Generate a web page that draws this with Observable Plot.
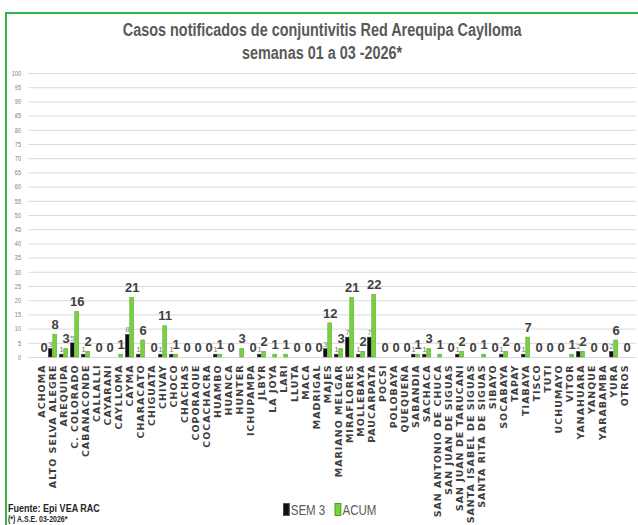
<!DOCTYPE html>
<html><head><meta charset="utf-8">
<script src="https://cdn.jsdelivr.net/npm/d3@7"></script>
<script src="https://cdn.jsdelivr.net/npm/@observablehq/plot@0.6"></script>
<style>
body{margin:0;background:#fff;}
#wrap{position:relative;width:638px;height:525px;overflow:hidden;background:#fff;font-family:"Liberation Sans Narrow","Arial Narrow","Liberation Sans",sans-serif;}
#frameTop{position:absolute;left:5px;top:12px;width:633px;height:2px;background:#2fb34a;}
#frameLeft{position:absolute;left:5px;top:12px;width:2px;height:513px;background:#2fb34a;}
#title{position:absolute;left:6px;width:632px;top:19px;text-align:center;color:#595959;font-weight:bold;font-size:18px;line-height:23px;}
#title span{display:inline-block;transform:scaleX(0.8);white-space:nowrap;}
#chart{position:absolute;left:0;top:60px;}
#legend{position:absolute;top:502px;left:283px;font-size:14px;color:#595959;white-space:nowrap;line-height:16px;transform:scaleX(0.82);transform-origin:0 0;}
#legend .sw{display:inline-block;width:5.5px;height:11px;margin-right:2px;vertical-align:-1px;}
#foot1{position:absolute;left:8px;top:502px;font-size:11px;font-weight:bold;color:#262626;white-space:nowrap;transform:scaleX(0.82);transform-origin:0 0;}
#foot2{position:absolute;left:8px;top:514px;font-size:8.5px;font-weight:bold;color:#262626;white-space:nowrap;transform:scaleX(0.82);transform-origin:0 0;}
g[aria-label="x-axis tick label"] text{letter-spacing:1px;}
</style>
</head><body>
<div id="wrap">
  <div id="frameTop"></div><div id="frameLeft"></div>
  <div id="title"><span>Casos notificados de conjuntivitis Red Arequipa Caylloma</span><br><span>semanas 01 a 03 -2026*</span></div>
  <div id="chart"></div>
  <div id="legend"><span class="sw" style="background:#111;border:0.5px solid #555"></span>SEM 3&nbsp;&nbsp;&nbsp;<span class="sw" style="background:#78d23c;border:0.5px solid #4a9a28"></span>ACUM</div>
  <div id="foot1">Fuente: Epi VEA RAC</div>
  <div id="foot2">(*) A.S.E. 03-2026*</div>
</div>
<script>
const categories = ["ACHOMA","ALTO SELVA ALEGRE","AREQUIPA","C. COLORADO","CABANACONDE","CALLALLI","CAYARANI","CAYLLOMA","CAYMA","CHARACATO","CHIGUATA","CHIVAY","CHOCO","CHACHAS","COPORAQUE","COCACHACRA","HUAMBO","HUANCA","HUNTER","ICHUPAMPA","JLBYR","LA JOYA","LARI","LLUTA","MACA","MADRIGAL","MAJES","MARIANO MELGAR","MIRAFLORES","MOLLEBAYA","PAUCARPATA","POCSI","POLOBAYA","QUEQUEÑA","SABANDIA","SACHACA","SAN ANTONIO DE CHUCA","SAN JUAN DE SIGUAS","SAN JUAN DE TARUCANI","SANTA ISABEL DE SIGUAS","SANTA RITA DE SIGUAS","SIBAYO","SOCABAYA","TAPAY","TIABAYA","TISCO","TUTI","UCHUMAYO","VITOR","YANAHUARA","YANQUE","YARABAMBA","YURA","OTROS"];
const sem3 = [null,3,1,5,1,null,null,null,8,1,null,1,1,null,null,null,1,null,null,null,1,null,null,null,null,null,3,1,7,1,7,null,null,null,1,1,null,null,1,null,null,null,1,null,1,null,null,null,null,2,null,null,2,null];
const acum = [0,8,3,16,2,0,0,1,21,6,0,11,1,0,0,0,1,0,3,0,2,1,1,0,0,0,12,3,21,2,22,0,0,0,1,3,1,0,2,0,1,0,2,0,7,0,0,0,1,2,0,0,6,0];
const yTicks = [0,5,10,15,20,25,30,35,40,45,50,55,60,65,70,75,80,85,90,95,100];

const rows = categories.map((c,i)=>({cat:c, sem:sem3[i], acum:acum[i]}));
const semRows = rows.filter(d=>d.sem!=null);
const chart = Plot.plot({
  width:638, height:465, marginTop:13, marginBottom:168, marginLeft:28.5, marginRight:1.5,
  style:{fontFamily:'"Liberation Sans",sans-serif', background:"transparent"},
  x:{domain:categories, padding:0, label:null},
  y:{domain:[0,100], label:null},
  marks:[
    Plot.gridY(yTicks,{stroke:"#d9d9d9", strokeOpacity:1}),
    Plot.axisY(yTicks,{tickSize:0, tickPadding:8, fontSize:7, label:null}),
    Plot.axisX({tickSize:0, tickPadding:7, tickRotate:-90, fontSize:9.5, fontWeight:"bold", fontFamily:"DejaVu Sans", label:null}),
    Plot.barY(semRows,{x:"cat", y:"sem", fill:"#0d0d0d", stroke:"#555", strokeWidth:0.5, insetLeft:1.3, insetRight:5.9}),
    Plot.barY(rows,{x:"cat", y:"acum", fill:"#78d23c", stroke:"#4a9a28", strokeWidth:0.5, insetLeft:5.8, insetRight:1.4}),
    Plot.text(rows,{x:"cat", y:"acum", text:d=>String(d.acum), dx:2.2, dy:-10, fontSize:13, fontWeight:"bold", fill:"#404040", ariaLabel:"acum-labels"}),
    Plot.text(semRows,{x:"cat", y:"sem", text:d=>String(d.sem), dx:-2.5, dy:-5, fontSize:8, fill:"#808080", ariaLabel:"sem-labels"})
  ]
});
document.getElementById("chart").appendChild(chart);
const sel = d3.select(chart);
sel.selectAll('g[aria-label="y-axis tick label"]').attr("fill","#808080");
sel.selectAll('g[aria-label="x-axis tick label"]').attr("fill","#404040");
// narrow the label glyphs (Arial Narrow look)
sel.selectAll('g[aria-label="acum-labels"] text, g[aria-label="sem-labels"] text, g[aria-label="y-axis tick label"] text').each(function(){
  const t = this.getAttribute("transform") || "";
  this.setAttribute("transform", t + " scale(0.8,1)");
});
</script>
</body></html>
